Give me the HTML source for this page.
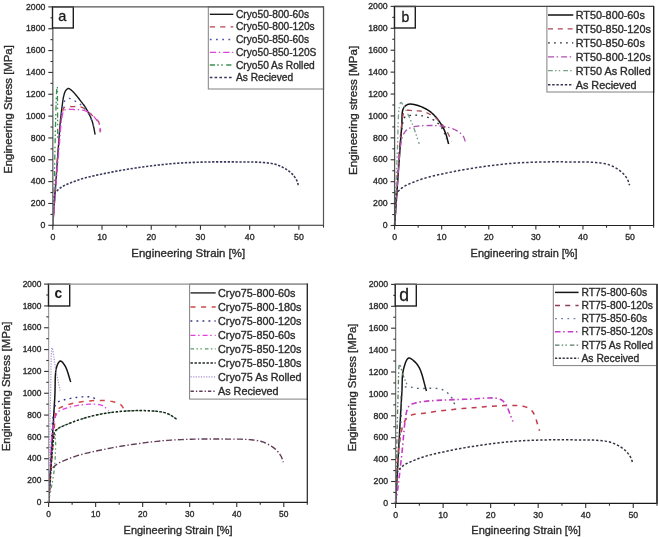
<!DOCTYPE html>
<html><head><meta charset="utf-8"><style>
html,body{margin:0;padding:0;background:#fff;width:658px;height:538px;overflow:hidden}
svg{display:block;font-family:"Liberation Sans",sans-serif;filter:blur(0.6px)}
</style></head><body>
<svg width="658" height="538" viewBox="0 0 658 538">
<rect width="658" height="538" fill="#fff"/>
<path d="M52.80,225.30 L53.43,216.50 L54.08,207.28 L54.76,197.82 L55.43,188.30 L56.10,178.90 L56.75,169.80 L57.36,161.18 L57.93,153.22 L58.45,146.11 L58.90,140.01 L59.09,137.49 L59.26,135.18 L59.41,133.05 L59.55,131.07 L59.69,129.21 L59.82,127.43 L59.96,125.70 L60.10,123.98 L60.26,122.25 L60.43,120.47 L60.59,118.88 L60.76,117.31 L60.93,115.75 L61.11,114.21 L61.29,112.69 L61.47,111.20 L61.65,109.74 L61.84,108.32 L62.02,106.95 L62.20,105.62 L62.34,104.60 L62.47,103.60 L62.59,102.63 L62.72,101.67 L62.84,100.74 L62.97,99.84 L63.12,98.95 L63.27,98.09 L63.44,97.26 L63.63,96.44 L63.79,95.80 L63.95,95.16 L64.11,94.53 L64.27,93.92 L64.45,93.32 L64.64,92.74 L64.85,92.20 L65.07,91.68 L65.32,91.20 L65.60,90.77 L65.83,90.44 L66.08,90.12 L66.34,89.81 L66.62,89.51 L66.90,89.24 L67.19,89.00 L67.49,88.79 L67.79,88.63 L68.10,88.52 L68.40,88.47 L68.74,88.49 L69.08,88.59 L69.43,88.74 L69.79,88.95 L70.15,89.20 L70.51,89.49 L70.88,89.79 L71.25,90.12 L71.62,90.44 L72.00,90.77 L72.51,91.23 L73.04,91.74 L73.58,92.30 L74.13,92.90 L74.68,93.52 L75.23,94.16 L75.77,94.80 L76.30,95.44 L76.81,96.06 L77.31,96.66 L77.75,97.19 L78.17,97.72 L78.58,98.25 L78.99,98.78 L79.39,99.30 L79.78,99.83 L80.17,100.35 L80.56,100.87 L80.95,101.39 L81.35,101.90 L81.73,102.40 L82.11,102.88 L82.49,103.36 L82.87,103.83 L83.25,104.31 L83.63,104.79 L84.00,105.28 L84.37,105.77 L84.73,106.29 L85.09,106.82 L85.47,107.42 L85.86,108.05 L86.23,108.69 L86.61,109.34 L86.98,110.00 L87.34,110.67 L87.69,111.35 L88.05,112.02 L88.39,112.70 L88.73,113.37 L89.06,114.04 L89.39,114.70 L89.72,115.37 L90.05,116.05 L90.36,116.72 L90.67,117.40 L90.97,118.08 L91.25,118.77 L91.52,119.45 L91.78,120.14 L92.01,120.82 L92.23,121.49 L92.44,122.17 L92.63,122.86 L92.81,123.54 L92.99,124.23 L93.16,124.92 L93.32,125.62 L93.49,126.32 L93.65,127.02 L93.82,127.76 L93.98,128.50 L94.13,129.25 L94.28,130.00 L94.42,130.76 L94.56,131.52 L94.70,132.28 L94.84,133.04 L94.98,133.80 L95.13,134.55" fill="none" stroke="#1a1a1a" stroke-width="1.4" stroke-linejoin="round"/>
<path d="M52.80,225.30 L53.44,216.32 L54.10,206.95 L54.75,197.37 L55.41,187.73 L56.06,178.21 L56.71,168.95 L57.35,160.13 L57.98,151.92 L58.60,144.46 L59.20,137.94 L59.50,134.86 L59.78,131.93 L60.05,129.15 L60.31,126.51 L60.58,124.04 L60.85,121.71 L61.14,119.53 L61.45,117.51 L61.78,115.64 L62.15,113.92 L62.34,113.04 L62.51,112.21 L62.66,111.41 L62.81,110.65 L62.98,109.94 L63.18,109.29 L63.42,108.69 L63.71,108.14 L64.07,107.67 L64.51,107.25 L65.10,106.91 L65.79,106.67 L66.56,106.53 L67.40,106.46 L68.29,106.44 L69.21,106.47 L70.13,106.52 L71.05,106.56 L71.94,106.60 L72.78,106.60 L73.58,106.57 L74.38,106.53 L75.18,106.48 L75.98,106.45 L76.78,106.42 L77.57,106.42 L78.35,106.45 L79.12,106.52 L79.87,106.64 L80.61,106.82 L81.32,107.05 L82.02,107.34 L82.71,107.67 L83.38,108.04 L84.05,108.45 L84.70,108.88 L85.35,109.33 L85.99,109.80 L86.62,110.27 L87.25,110.75 L87.92,111.28 L88.58,111.86 L89.24,112.47 L89.89,113.11 L90.53,113.76 L91.16,114.41 L91.77,115.04 L92.37,115.65 L92.95,116.23 L93.50,116.76 L93.91,117.12 L94.30,117.46 L94.69,117.78 L95.07,118.10 L95.44,118.40 L95.80,118.70 L96.15,119.00 L96.48,119.30 L96.80,119.61 L97.10,119.92 L97.33,120.18 L97.56,120.43 L97.77,120.67 L97.98,120.90 L98.17,121.15 L98.36,121.40 L98.54,121.67 L98.71,121.97 L98.87,122.29 L99.02,122.65 L99.24,123.37 L99.42,124.19 L99.57,125.10 L99.68,126.08 L99.77,127.11 L99.85,128.18 L99.93,129.25 L100.00,130.33 L100.09,131.37 L100.20,132.37" fill="none" stroke="#b8404e" stroke-width="1.3" stroke-dasharray="5.2,5.2" stroke-linejoin="round"/>
<path d="M52.80,225.30 L53.45,216.34 L54.10,207.04 L54.76,197.53 L55.43,187.98 L56.09,178.53 L56.74,169.32 L57.38,160.51 L58.01,152.24 L58.62,144.67 L59.20,137.94 L59.51,134.52 L59.80,131.26 L60.08,128.16 L60.35,125.21 L60.62,122.42 L60.90,119.78 L61.19,117.28 L61.49,114.93 L61.81,112.72 L62.15,110.64 L62.35,109.47 L62.54,108.34 L62.71,107.25 L62.89,106.22 L63.07,105.23 L63.28,104.31 L63.52,103.44 L63.80,102.64 L64.13,101.91 L64.51,101.25 L64.82,100.82 L65.16,100.41 L65.52,100.03 L65.89,99.67 L66.29,99.35 L66.70,99.07 L67.11,98.83 L67.54,98.64 L67.97,98.50 L68.40,98.41 L68.87,98.39 L69.35,98.44 L69.85,98.57 L70.36,98.74 L70.88,98.96 L71.40,99.21 L71.92,99.48 L72.44,99.75 L72.96,100.02 L73.47,100.27 L74.02,100.53 L74.58,100.81 L75.13,101.10 L75.69,101.40 L76.25,101.71 L76.80,102.03 L77.35,102.37 L77.90,102.71 L78.44,103.07 L78.98,103.43 L79.56,103.83 L80.13,104.24 L80.71,104.65 L81.29,105.08 L81.86,105.53 L82.42,105.98 L82.97,106.45 L83.50,106.92 L84.01,107.41 L84.50,107.91 L84.95,108.40 L85.37,108.90 L85.78,109.40 L86.17,109.91 L86.55,110.44 L86.92,110.98 L87.29,111.54 L87.65,112.12 L88.02,112.73 L88.38,113.37 L88.87,114.26 L89.37,115.22 L89.86,116.24 L90.36,117.31 L90.84,118.40 L91.31,119.49 L91.76,120.57 L92.18,121.61 L92.56,122.61 L92.91,123.53 L93.14,124.15 L93.34,124.76 L93.53,125.34 L93.70,125.90 L93.86,126.46 L94.01,127.00 L94.16,127.55 L94.31,128.09 L94.47,128.64 L94.64,129.20" fill="none" stroke="#5058a8" stroke-width="1.3" stroke-dasharray="1.8,4.4" stroke-linejoin="round"/>
<path d="M52.80,225.30 L53.43,217.52 L54.06,209.52 L54.70,201.40 L55.34,193.25 L55.98,185.16 L56.62,177.22 L57.24,169.53 L57.85,162.18 L58.43,155.26 L59.00,148.86 L59.35,144.78 L59.67,140.72 L59.98,136.73 L60.27,132.86 L60.56,129.16 L60.87,125.68 L61.19,122.48 L61.55,119.59 L61.95,117.09 L62.40,115.01 L62.57,114.30 L62.72,113.66 L62.86,113.06 L63.00,112.51 L63.15,112.01 L63.32,111.56 L63.54,111.14 L63.80,110.76 L64.12,110.41 L64.51,110.09 L65.21,109.73 L66.07,109.48 L67.05,109.33 L68.12,109.25 L69.27,109.24 L70.46,109.28 L71.67,109.34 L72.86,109.42 L74.01,109.50 L75.10,109.55 L76.12,109.58 L77.15,109.62 L78.20,109.68 L79.24,109.74 L80.27,109.83 L81.29,109.94 L82.28,110.09 L83.25,110.27 L84.19,110.48 L85.09,110.75 L85.84,111.02 L86.58,111.32 L87.30,111.66 L88.00,112.02 L88.68,112.41 L89.34,112.81 L89.98,113.23 L90.60,113.67 L91.20,114.12 L91.78,114.57 L92.29,115.00 L92.78,115.45 L93.24,115.92 L93.69,116.41 L94.12,116.90 L94.54,117.40 L94.95,117.90 L95.34,118.40 L95.73,118.89 L96.11,119.38 L96.44,119.79 L96.77,120.18 L97.09,120.57 L97.40,120.96 L97.71,121.34 L98.00,121.74 L98.27,122.15 L98.54,122.58 L98.79,123.04 L99.02,123.53 L99.27,124.19 L99.49,124.89 L99.68,125.64 L99.84,126.42 L99.99,127.22 L100.12,128.04 L100.26,128.86 L100.39,129.68 L100.53,130.49 L100.69,131.28" fill="none" stroke="#d848d8" stroke-width="1.3" stroke-dasharray="6.3,2.6,1.5,3" stroke-linejoin="round"/>
<path d="M52.80,225.30 L52.95,220.75 L53.10,216.25 L53.25,211.77 L53.40,207.31 L53.55,202.83 L53.70,198.31 L53.85,193.74 L53.99,189.08 L54.14,184.32 L54.28,179.44 L54.44,173.39 L54.59,166.98 L54.74,160.32 L54.88,153.52 L55.03,146.69 L55.17,139.94 L55.31,133.40 L55.46,127.17 L55.60,121.37 L55.75,116.10 L55.85,112.90 L55.94,109.71 L56.02,106.58 L56.11,103.54 L56.20,100.65 L56.29,97.95 L56.39,95.48 L56.49,93.28 L56.61,91.40 L56.74,89.89 L56.78,89.45 L56.83,89.02 L56.89,88.60 L56.94,88.21 L56.99,87.86 L57.05,87.55 L57.10,87.30 L57.15,87.10 L57.19,86.98 L57.23,86.94 L57.30,87.16 L57.35,87.76 L57.38,88.69 L57.41,89.89 L57.42,91.31 L57.43,92.90 L57.44,94.58 L57.45,96.32 L57.46,98.05 L57.48,99.72 L57.51,102.71 L57.54,106.06 L57.57,109.68 L57.59,113.54 L57.61,117.55 L57.63,121.67 L57.66,125.83 L57.68,129.97 L57.70,134.03 L57.72,137.94" fill="none" stroke="#3a9050" stroke-width="1.3" stroke-dasharray="5.2,2.2,1.5,2.5,1.5,3.5" stroke-linejoin="round"/>
<path d="M52.80,225.30 L52.96,221.99 L53.06,218.45 L53.13,214.77 L53.18,211.07 L53.26,207.43 L53.38,203.95 L53.56,200.74 L53.84,197.88 L54.23,195.48 L54.77,193.63 L55.01,193.09 L55.26,192.63 L55.53,192.23 L55.81,191.88 L56.09,191.57 L56.40,191.29 L56.71,191.02 L57.04,190.74 L57.37,190.45 L57.72,190.14 L58.14,189.75 L58.57,189.36 L59.02,188.98 L59.49,188.60 L59.97,188.22 L60.46,187.85 L60.98,187.49 L61.52,187.13 L62.07,186.77 L62.64,186.42 L63.39,186.01 L64.16,185.60 L64.97,185.21 L65.81,184.83 L66.68,184.45 L67.57,184.08 L68.48,183.72 L69.40,183.35 L70.35,182.98 L71.31,182.60 L72.47,182.15 L73.65,181.69 L74.85,181.24 L76.07,180.79 L77.33,180.34 L78.62,179.89 L79.96,179.44 L81.35,179.00 L82.79,178.56 L84.30,178.13 L86.53,177.52 L88.93,176.91 L91.46,176.31 L94.09,175.70 L96.79,175.11 L99.54,174.53 L102.30,173.95 L105.05,173.40 L107.76,172.86 L110.39,172.34 L112.87,171.86 L115.30,171.39 L117.70,170.95 L120.09,170.51 L122.49,170.09 L124.92,169.68 L127.39,169.28 L129.92,168.88 L132.53,168.48 L135.24,168.08 L138.76,167.58 L142.45,167.06 L146.26,166.55 L150.16,166.04 L154.14,165.55 L158.14,165.07 L162.15,164.62 L166.13,164.20 L170.05,163.82 L173.88,163.49 L177.45,163.22 L181.00,162.99 L184.55,162.78 L188.07,162.61 L191.58,162.46 L195.07,162.33 L198.54,162.22 L201.99,162.13 L205.42,162.04 L208.82,161.96 L212.03,161.91 L215.25,161.87 L218.48,161.85 L221.69,161.84 L224.88,161.85 L228.02,161.86 L231.10,161.89 L234.11,161.91 L237.02,161.94 L239.83,161.96 L241.99,161.97 L244.08,161.98 L246.12,161.97 L248.11,161.97 L250.06,161.97 L251.98,161.99 L253.87,162.02 L255.76,162.08 L257.64,162.17 L259.52,162.29 L261.26,162.42 L263.00,162.54 L264.73,162.67 L266.44,162.82 L268.14,162.99 L269.82,163.20 L271.48,163.45 L273.10,163.76 L274.69,164.13 L276.25,164.58 L277.70,165.08 L279.16,165.65 L280.60,166.26 L282.02,166.93 L283.42,167.64 L284.77,168.39 L286.06,169.16 L287.30,169.95 L288.46,170.76 L289.54,171.57 L290.35,172.24 L291.12,172.94 L291.86,173.65 L292.55,174.38 L293.21,175.12 L293.83,175.88 L294.41,176.63 L294.96,177.39 L295.47,178.14 L295.94,178.89 L296.29,179.51 L296.60,180.13 L296.87,180.75 L297.11,181.37 L297.33,181.99 L297.54,182.62 L297.74,183.24 L297.95,183.87 L298.16,184.49 L298.40,185.11" fill="none" stroke="#38385a" stroke-width="1.6" stroke-dasharray="2.3,1.6" stroke-linejoin="round"/>
<line x1="52.80" y1="6.90" x2="52.80" y2="225.30" stroke="#808080" stroke-width="1.6"/>
<line x1="52.80" y1="225.30" x2="324.00" y2="225.30" stroke="#2a2a2a" stroke-width="1.1"/>
<line x1="323.50" y1="6.90" x2="323.50" y2="225.30" stroke="#555" stroke-width="1.2"/>
<line x1="48.30" y1="225.30" x2="52.80" y2="225.30" stroke="#303030" stroke-width="1.1"/>
<line x1="50.50" y1="214.38" x2="52.80" y2="214.38" stroke="#303030" stroke-width="1.1"/>
<line x1="48.30" y1="203.46" x2="52.80" y2="203.46" stroke="#303030" stroke-width="1.1"/>
<line x1="50.50" y1="192.54" x2="52.80" y2="192.54" stroke="#303030" stroke-width="1.1"/>
<line x1="48.30" y1="181.62" x2="52.80" y2="181.62" stroke="#303030" stroke-width="1.1"/>
<line x1="50.50" y1="170.70" x2="52.80" y2="170.70" stroke="#303030" stroke-width="1.1"/>
<line x1="48.30" y1="159.78" x2="52.80" y2="159.78" stroke="#303030" stroke-width="1.1"/>
<line x1="50.50" y1="148.86" x2="52.80" y2="148.86" stroke="#303030" stroke-width="1.1"/>
<line x1="48.30" y1="137.94" x2="52.80" y2="137.94" stroke="#303030" stroke-width="1.1"/>
<line x1="50.50" y1="127.02" x2="52.80" y2="127.02" stroke="#303030" stroke-width="1.1"/>
<line x1="48.30" y1="116.10" x2="52.80" y2="116.10" stroke="#303030" stroke-width="1.1"/>
<line x1="50.50" y1="105.18" x2="52.80" y2="105.18" stroke="#303030" stroke-width="1.1"/>
<line x1="48.30" y1="94.26" x2="52.80" y2="94.26" stroke="#303030" stroke-width="1.1"/>
<line x1="50.50" y1="83.34" x2="52.80" y2="83.34" stroke="#303030" stroke-width="1.1"/>
<line x1="48.30" y1="72.42" x2="52.80" y2="72.42" stroke="#303030" stroke-width="1.1"/>
<line x1="50.50" y1="61.50" x2="52.80" y2="61.50" stroke="#303030" stroke-width="1.1"/>
<line x1="48.30" y1="50.58" x2="52.80" y2="50.58" stroke="#303030" stroke-width="1.1"/>
<line x1="50.50" y1="39.66" x2="52.80" y2="39.66" stroke="#303030" stroke-width="1.1"/>
<line x1="48.30" y1="28.74" x2="52.80" y2="28.74" stroke="#303030" stroke-width="1.1"/>
<line x1="50.50" y1="17.82" x2="52.80" y2="17.82" stroke="#303030" stroke-width="1.1"/>
<line x1="48.30" y1="6.90" x2="52.80" y2="6.90" stroke="#303030" stroke-width="1.1"/>
<line x1="52.80" y1="225.30" x2="52.80" y2="229.80" stroke="#303030" stroke-width="1.1"/>
<line x1="77.41" y1="225.30" x2="77.41" y2="227.60" stroke="#303030" stroke-width="1.1"/>
<line x1="102.02" y1="225.30" x2="102.02" y2="229.80" stroke="#303030" stroke-width="1.1"/>
<line x1="126.63" y1="225.30" x2="126.63" y2="227.60" stroke="#303030" stroke-width="1.1"/>
<line x1="151.24" y1="225.30" x2="151.24" y2="229.80" stroke="#303030" stroke-width="1.1"/>
<line x1="175.85" y1="225.30" x2="175.85" y2="227.60" stroke="#303030" stroke-width="1.1"/>
<line x1="200.45" y1="225.30" x2="200.45" y2="229.80" stroke="#303030" stroke-width="1.1"/>
<line x1="225.06" y1="225.30" x2="225.06" y2="227.60" stroke="#303030" stroke-width="1.1"/>
<line x1="249.67" y1="225.30" x2="249.67" y2="229.80" stroke="#303030" stroke-width="1.1"/>
<line x1="274.28" y1="225.30" x2="274.28" y2="227.60" stroke="#303030" stroke-width="1.1"/>
<line x1="298.89" y1="225.30" x2="298.89" y2="229.80" stroke="#303030" stroke-width="1.1"/>
<line x1="323.50" y1="225.30" x2="323.50" y2="227.60" stroke="#303030" stroke-width="1.1"/>
<text x="45.30" y="228.00" font-size="8.70" text-anchor="end" fill="#2c2c2c" stroke="#2c2c2c" stroke-width="0.35">0</text>
<text x="45.30" y="206.16" font-size="8.70" text-anchor="end" fill="#2c2c2c" stroke="#2c2c2c" stroke-width="0.35">200</text>
<text x="45.30" y="184.32" font-size="8.70" text-anchor="end" fill="#2c2c2c" stroke="#2c2c2c" stroke-width="0.35">400</text>
<text x="45.30" y="162.48" font-size="8.70" text-anchor="end" fill="#2c2c2c" stroke="#2c2c2c" stroke-width="0.35">600</text>
<text x="45.30" y="140.64" font-size="8.70" text-anchor="end" fill="#2c2c2c" stroke="#2c2c2c" stroke-width="0.35">800</text>
<text x="45.30" y="118.80" font-size="8.70" text-anchor="end" fill="#2c2c2c" stroke="#2c2c2c" stroke-width="0.35">1000</text>
<text x="45.30" y="96.96" font-size="8.70" text-anchor="end" fill="#2c2c2c" stroke="#2c2c2c" stroke-width="0.35">1200</text>
<text x="45.30" y="75.12" font-size="8.70" text-anchor="end" fill="#2c2c2c" stroke="#2c2c2c" stroke-width="0.35">1400</text>
<text x="45.30" y="53.28" font-size="8.70" text-anchor="end" fill="#2c2c2c" stroke="#2c2c2c" stroke-width="0.35">1600</text>
<text x="45.30" y="31.44" font-size="8.70" text-anchor="end" fill="#2c2c2c" stroke="#2c2c2c" stroke-width="0.35">1800</text>
<text x="45.30" y="9.60" font-size="8.70" text-anchor="end" fill="#2c2c2c" stroke="#2c2c2c" stroke-width="0.35">2000</text>
<text x="52.80" y="239.70" font-size="8.70" text-anchor="middle" fill="#2c2c2c" stroke="#2c2c2c" stroke-width="0.35">0</text>
<text x="102.02" y="239.70" font-size="8.70" text-anchor="middle" fill="#2c2c2c" stroke="#2c2c2c" stroke-width="0.35">10</text>
<text x="151.24" y="239.70" font-size="8.70" text-anchor="middle" fill="#2c2c2c" stroke="#2c2c2c" stroke-width="0.35">20</text>
<text x="200.45" y="239.70" font-size="8.70" text-anchor="middle" fill="#2c2c2c" stroke="#2c2c2c" stroke-width="0.35">30</text>
<text x="249.67" y="239.70" font-size="8.70" text-anchor="middle" fill="#2c2c2c" stroke="#2c2c2c" stroke-width="0.35">40</text>
<text x="298.89" y="239.70" font-size="8.70" text-anchor="middle" fill="#2c2c2c" stroke="#2c2c2c" stroke-width="0.35">50</text>
<text x="131.30" y="256.90" font-size="11.45" fill="#2c2c2c" stroke="#2c2c2c" stroke-width="0.35">Engineering Strain [%]</text>
<text transform="translate(12.30,173.80) rotate(-90)" font-size="11.35" fill="#2c2c2c" stroke="#2c2c2c" stroke-width="0.35">Engineering Stress [MPa]</text>
<rect x="52.50" y="6.90" width="20.80" height="21.10" fill="#fff" stroke="#1e1e1e" stroke-width="1.4"/>
<text x="62.40" y="20.60" font-size="14.50" text-anchor="middle" fill="#1a1a1a" stroke="#1a1a1a" stroke-width="0.3">a</text>
<rect x="208.30" y="6.90" width="115.20" height="82.10" fill="#fff" stroke="#808080" stroke-width="1"/>
<line x1="52.80" y1="6.90" x2="324.00" y2="6.90" stroke="#555" stroke-width="1.3"/>
<line x1="323.50" y1="6.40" x2="323.50" y2="90.00" stroke="#555" stroke-width="1.2"/>
<line x1="209.80" y1="14.30" x2="233.30" y2="14.30" stroke="#1a1a1a" stroke-width="1.4"/>
<text x="236.00" y="17.97" font-size="10.20" fill="#2c2c2c" stroke="#2c2c2c" stroke-width="0.35">Cryo50-800-60s</text>
<line x1="209.80" y1="26.80" x2="233.30" y2="26.80" stroke="#b8404e" stroke-width="1.3" stroke-dasharray="5.2,5.2"/>
<text x="236.00" y="30.47" font-size="10.20" fill="#2c2c2c" stroke="#2c2c2c" stroke-width="0.35">Cryo50-800-120s</text>
<line x1="209.80" y1="39.50" x2="233.30" y2="39.50" stroke="#5058a8" stroke-width="1.3" stroke-dasharray="1.8,4.4"/>
<text x="236.00" y="43.17" font-size="10.20" fill="#2c2c2c" stroke="#2c2c2c" stroke-width="0.35">Cryo50-850-60s</text>
<line x1="209.80" y1="52.40" x2="233.30" y2="52.40" stroke="#d848d8" stroke-width="1.3" stroke-dasharray="6.3,2.6,1.5,3"/>
<text x="236.00" y="56.07" font-size="10.20" fill="#2c2c2c" stroke="#2c2c2c" stroke-width="0.35">Cryo50-850-120S</text>
<line x1="209.80" y1="65.00" x2="233.30" y2="65.00" stroke="#3a9050" stroke-width="1.3" stroke-dasharray="5.2,2.2,1.5,2.5,1.5,3.5"/>
<text x="236.00" y="68.67" font-size="10.20" fill="#2c2c2c" stroke="#2c2c2c" stroke-width="0.35">Cryo50 As Rolled</text>
<line x1="209.80" y1="77.50" x2="233.30" y2="77.50" stroke="#38385a" stroke-width="1.6" stroke-dasharray="2.6,2.2"/>
<text x="236.00" y="81.17" font-size="10.20" fill="#2c2c2c" stroke="#2c2c2c" stroke-width="0.35">As Recieved</text>
<path d="M394.60,225.50 L395.33,215.29 L396.08,204.53 L396.86,193.46 L397.64,182.31 L398.41,171.31 L399.15,160.71 L399.87,150.73 L400.53,141.62 L401.14,133.60 L401.66,126.91 L401.83,124.41 L401.92,122.06 L401.97,119.86 L402.00,117.80 L402.04,115.90 L402.12,114.13 L402.27,112.51 L402.50,111.03 L402.86,109.70 L403.36,108.50 L403.72,107.86 L404.11,107.28 L404.53,106.74 L404.98,106.26 L405.46,105.82 L405.97,105.43 L406.50,105.09 L407.06,104.80 L407.64,104.55 L408.26,104.34 L409.07,104.16 L409.94,104.07 L410.88,104.07 L411.85,104.14 L412.86,104.27 L413.90,104.46 L414.95,104.69 L415.99,104.95 L417.03,105.24 L418.05,105.54 L419.25,105.93 L420.49,106.39 L421.75,106.90 L423.02,107.47 L424.29,108.08 L425.54,108.73 L426.77,109.42 L427.97,110.15 L429.12,110.90 L430.20,111.68 L431.19,112.45 L432.15,113.27 L433.07,114.12 L433.96,115.00 L434.82,115.91 L435.66,116.85 L436.47,117.81 L437.26,118.79 L438.02,119.77 L438.77,120.77 L439.50,121.79 L440.21,122.82 L440.89,123.88 L441.56,124.96 L442.19,126.06 L442.80,127.17 L443.39,128.29 L443.95,129.43 L444.48,130.57 L444.99,131.73 L445.46,132.90 L445.88,134.10 L446.27,135.32 L446.63,136.54 L446.97,137.78 L447.29,139.03 L447.61,140.28 L447.93,141.52 L448.26,142.76 L448.61,143.99" fill="none" stroke="#111111" stroke-width="1.5" stroke-linejoin="round"/>
<path d="M394.60,225.50 L395.34,214.60 L396.08,202.95 L396.80,190.86 L397.52,178.66 L398.25,166.68 L398.98,155.24 L399.73,144.67 L400.51,135.30 L401.30,127.44 L402.13,121.43 L402.38,119.88 L402.57,118.46 L402.74,117.15 L402.91,115.95 L403.09,114.86 L403.31,113.88 L403.58,113.01 L403.94,112.24 L404.39,111.58 L404.96,111.02 L405.58,110.64 L406.29,110.40 L407.08,110.27 L407.93,110.23 L408.82,110.26 L409.75,110.34 L410.69,110.44 L411.62,110.55 L412.55,110.64 L413.44,110.69 L414.36,110.71 L415.28,110.73 L416.21,110.75 L417.14,110.78 L418.08,110.83 L419.02,110.91 L419.97,111.01 L420.93,111.15 L421.89,111.33 L422.85,111.57 L424.01,111.90 L425.20,112.29 L426.41,112.73 L427.63,113.22 L428.85,113.75 L430.06,114.33 L431.26,114.95 L432.42,115.61 L433.55,116.31 L434.63,117.05 L435.69,117.85 L436.73,118.72 L437.75,119.64 L438.74,120.60 L439.70,121.61 L440.63,122.64 L441.53,123.69 L442.40,124.76 L443.24,125.84 L444.05,126.91 L444.79,127.97 L445.53,129.09 L446.24,130.26 L446.92,131.46 L447.57,132.65 L448.19,133.82 L448.76,134.95 L449.28,136.01 L449.75,136.99 L450.17,137.86 L450.37,138.29 L450.54,138.70 L450.70,139.07 L450.83,139.43 L450.96,139.78 L451.08,140.11 L451.20,140.45 L451.32,140.78 L451.45,141.12 L451.58,141.48" fill="none" stroke="#a84858" stroke-width="1.3" stroke-dasharray="5,4.8" stroke-linejoin="round"/>
<path d="M394.60,225.50 L395.35,215.18 L396.08,204.14 L396.80,192.68 L397.52,181.13 L398.25,169.77 L398.99,158.94 L399.74,148.92 L400.51,140.04 L401.31,132.60 L402.13,126.91 L402.38,125.45 L402.58,124.12 L402.76,122.90 L402.93,121.80 L403.12,120.79 L403.34,119.88 L403.62,119.06 L403.96,118.32 L404.41,117.65 L404.96,117.05 L405.58,116.58 L406.29,116.21 L407.07,115.93 L407.92,115.73 L408.81,115.59 L409.74,115.49 L410.68,115.43 L411.62,115.38 L412.54,115.34 L413.44,115.29 L414.36,115.24 L415.29,115.22 L416.23,115.22 L417.17,115.25 L418.13,115.31 L419.08,115.38 L420.03,115.49 L420.98,115.62 L421.92,115.77 L422.85,115.95 L423.82,116.16 L424.79,116.40 L425.76,116.66 L426.74,116.95 L427.71,117.27 L428.66,117.61 L429.60,117.98 L430.52,118.37 L431.41,118.79 L432.27,119.24 L433.06,119.68 L433.84,120.15 L434.60,120.64 L435.34,121.16 L436.07,121.70 L436.77,122.26 L437.45,122.84 L438.10,123.44 L438.73,124.07 L439.34,124.71 L439.91,125.39 L440.47,126.11 L440.99,126.86 L441.50,127.64 L441.98,128.43 L442.43,129.23 L442.87,130.03 L443.28,130.83 L443.67,131.61 L444.05,132.38 L444.35,133.05 L444.62,133.71 L444.88,134.37 L445.11,135.02 L445.33,135.68 L445.54,136.33 L445.75,136.99 L445.96,137.64 L446.17,138.30 L446.40,138.96" fill="none" stroke="#303040" stroke-width="1.3" stroke-dasharray="1.8,4.2" stroke-linejoin="round"/>
<path d="M394.60,225.50 L395.17,217.52 L395.75,209.05 L396.33,200.31 L396.91,191.50 L397.49,182.82 L398.06,174.49 L398.63,166.72 L399.19,159.71 L399.73,153.67 L400.25,148.81 L400.43,147.30 L400.59,145.94 L400.73,144.71 L400.87,143.59 L401.01,142.56 L401.17,141.58 L401.35,140.65 L401.56,139.73 L401.82,138.81 L402.13,137.86 L402.45,137.00 L402.77,136.13 L403.12,135.28 L403.50,134.45 L403.89,133.64 L404.32,132.86 L404.78,132.11 L405.27,131.42 L405.80,130.78 L406.37,130.19 L406.95,129.70 L407.57,129.26 L408.23,128.86 L408.92,128.50 L409.63,128.18 L410.37,127.89 L411.12,127.62 L411.89,127.37 L412.66,127.13 L413.44,126.91 L414.30,126.68 L415.18,126.48 L416.08,126.32 L416.99,126.19 L417.92,126.08 L418.87,125.98 L419.83,125.90 L420.82,125.83 L421.83,125.77 L422.85,125.70 L424.16,125.63 L425.54,125.57 L426.97,125.53 L428.44,125.51 L429.92,125.50 L431.40,125.51 L432.87,125.53 L434.30,125.57 L435.67,125.63 L436.98,125.70 L438.00,125.77 L438.99,125.84 L439.96,125.92 L440.90,126.01 L441.83,126.11 L442.74,126.23 L443.65,126.36 L444.56,126.52 L445.48,126.70 L446.40,126.90 L447.36,127.14 L448.33,127.39 L449.31,127.66 L450.28,127.95 L451.25,128.26 L452.21,128.59 L453.15,128.95 L454.07,129.34 L454.96,129.75 L455.82,130.19 L456.62,130.64 L457.41,131.10 L458.20,131.59 L458.97,132.11 L459.72,132.64 L460.44,133.20 L461.13,133.78 L461.76,134.39 L462.35,135.02 L462.88,135.67 L463.31,136.30 L463.68,136.97 L463.99,137.66 L464.27,138.38 L464.52,139.11 L464.75,139.85 L464.97,140.59 L465.20,141.33 L465.44,142.07 L465.71,142.79" fill="none" stroke="#b050b0" stroke-width="1.3" stroke-dasharray="6,2.6,1.5,3" stroke-linejoin="round"/>
<path d="M394.60,225.50 L394.88,217.73 L395.17,209.79 L395.46,201.76 L395.75,193.71 L396.03,185.70 L396.32,177.81 L396.60,170.11 L396.88,162.66 L397.16,155.54 L397.43,148.81 L397.60,143.95 L397.74,139.02 L397.87,134.09 L397.99,129.26 L398.11,124.61 L398.26,120.23 L398.43,116.22 L398.66,112.65 L398.95,109.61 L399.31,107.19 L399.45,106.47 L399.58,105.79 L399.72,105.13 L399.87,104.52 L400.02,103.97 L400.18,103.49 L400.35,103.09 L400.53,102.78 L400.74,102.57 L400.96,102.48 L401.21,102.52 L401.48,102.70 L401.77,103.00 L402.07,103.40 L402.39,103.87 L402.71,104.40 L403.04,104.96 L403.37,105.53 L403.70,106.10 L404.02,106.64 L404.47,107.40 L404.94,108.23 L405.41,109.11 L405.89,110.03 L406.36,110.99 L406.84,111.97 L407.32,112.96 L407.80,113.97 L408.27,114.96 L408.73,115.95 L409.21,116.99 L409.69,118.03 L410.16,119.08 L410.64,120.13 L411.10,121.20 L411.57,122.28 L412.03,123.39 L412.50,124.53 L412.97,125.70 L413.44,126.90 L414.02,128.45 L414.59,130.07 L415.17,131.74 L415.75,133.45 L416.33,135.20 L416.91,136.97 L417.49,138.74 L418.07,140.51 L418.65,142.27 L419.23,143.99" fill="none" stroke="#7aa088" stroke-width="1.3" stroke-dasharray="4.8,2.2,1.5,2.2,1.5,3" stroke-linejoin="round"/>
<path d="M394.60,225.50 L394.75,222.18 L394.85,218.62 L394.91,214.94 L394.96,211.23 L395.03,207.58 L395.14,204.09 L395.32,200.86 L395.58,198.00 L395.96,195.59 L396.48,193.73 L396.71,193.19 L396.96,192.73 L397.21,192.33 L397.47,191.98 L397.75,191.67 L398.04,191.39 L398.34,191.11 L398.65,190.84 L398.97,190.54 L399.31,190.22 L399.71,189.84 L400.12,189.45 L400.55,189.06 L400.99,188.68 L401.45,188.31 L401.93,187.93 L402.42,187.57 L402.94,187.20 L403.47,186.85 L404.02,186.50 L404.73,186.08 L405.47,185.68 L406.24,185.29 L407.05,184.90 L407.87,184.52 L408.73,184.15 L409.60,183.78 L410.49,183.41 L411.39,183.04 L412.31,182.67 L413.42,182.21 L414.55,181.75 L415.69,181.30 L416.87,180.85 L418.07,180.40 L419.31,179.95 L420.59,179.50 L421.91,179.05 L423.30,178.61 L424.74,178.17 L426.88,177.57 L429.17,176.96 L431.59,176.35 L434.10,175.75 L436.69,175.15 L439.32,174.56 L441.96,173.99 L444.59,173.43 L447.18,172.89 L449.70,172.37 L452.07,171.88 L454.40,171.42 L456.70,170.97 L458.98,170.54 L461.28,170.12 L463.60,169.70 L465.96,169.30 L468.39,168.90 L470.88,168.50 L473.48,168.10 L476.85,167.59 L480.37,167.08 L484.02,166.56 L487.75,166.05 L491.55,165.56 L495.39,165.08 L499.22,164.63 L503.03,164.21 L506.78,163.83 L510.44,163.49 L513.86,163.22 L517.26,162.99 L520.65,162.78 L524.03,162.61 L527.38,162.46 L530.72,162.33 L534.04,162.22 L537.34,162.12 L540.62,162.04 L543.88,161.96 L546.95,161.90 L550.03,161.86 L553.12,161.84 L556.19,161.84 L559.24,161.84 L562.25,161.86 L565.19,161.88 L568.07,161.91 L570.86,161.94 L573.55,161.96 L575.61,161.97 L577.61,161.97 L579.56,161.97 L581.46,161.96 L583.33,161.97 L585.17,161.98 L586.98,162.02 L588.79,162.08 L590.58,162.16 L592.38,162.29 L594.05,162.42 L595.72,162.54 L597.37,162.67 L599.01,162.82 L600.64,162.99 L602.25,163.20 L603.83,163.45 L605.38,163.76 L606.91,164.14 L608.39,164.59 L609.79,165.09 L611.18,165.66 L612.56,166.28 L613.92,166.95 L615.26,167.66 L616.55,168.41 L617.79,169.18 L618.97,169.98 L620.08,170.79 L621.11,171.60 L621.89,172.27 L622.63,172.97 L623.33,173.69 L624.00,174.42 L624.63,175.17 L625.22,175.92 L625.78,176.68 L626.30,177.44 L626.78,178.19 L627.23,178.94 L627.57,179.56 L627.86,180.18 L628.12,180.81 L628.35,181.43 L628.56,182.06 L628.76,182.68 L628.96,183.31 L629.15,183.94 L629.36,184.56 L629.58,185.19" fill="none" stroke="#363652" stroke-width="1.5" stroke-dasharray="2.4,1.9" stroke-linejoin="round"/>
<line x1="394.60" y1="6.40" x2="394.60" y2="225.50" stroke="#555" stroke-width="1.3"/>
<line x1="394.60" y1="225.50" x2="654.10" y2="225.50" stroke="#222" stroke-width="1.1"/>
<line x1="653.60" y1="6.40" x2="653.60" y2="225.50" stroke="#222" stroke-width="1.2"/>
<line x1="390.60" y1="225.50" x2="394.60" y2="225.50" stroke="#303030" stroke-width="1.1"/>
<line x1="392.30" y1="214.54" x2="394.60" y2="214.54" stroke="#303030" stroke-width="1.1"/>
<line x1="390.60" y1="203.59" x2="394.60" y2="203.59" stroke="#303030" stroke-width="1.1"/>
<line x1="392.30" y1="192.63" x2="394.60" y2="192.63" stroke="#303030" stroke-width="1.1"/>
<line x1="390.60" y1="181.68" x2="394.60" y2="181.68" stroke="#303030" stroke-width="1.1"/>
<line x1="392.30" y1="170.72" x2="394.60" y2="170.72" stroke="#303030" stroke-width="1.1"/>
<line x1="390.60" y1="159.77" x2="394.60" y2="159.77" stroke="#303030" stroke-width="1.1"/>
<line x1="392.30" y1="148.81" x2="394.60" y2="148.81" stroke="#303030" stroke-width="1.1"/>
<line x1="390.60" y1="137.86" x2="394.60" y2="137.86" stroke="#303030" stroke-width="1.1"/>
<line x1="392.30" y1="126.91" x2="394.60" y2="126.91" stroke="#303030" stroke-width="1.1"/>
<line x1="390.60" y1="115.95" x2="394.60" y2="115.95" stroke="#303030" stroke-width="1.1"/>
<line x1="392.30" y1="105.00" x2="394.60" y2="105.00" stroke="#303030" stroke-width="1.1"/>
<line x1="390.60" y1="94.04" x2="394.60" y2="94.04" stroke="#303030" stroke-width="1.1"/>
<line x1="392.30" y1="83.09" x2="394.60" y2="83.09" stroke="#303030" stroke-width="1.1"/>
<line x1="390.60" y1="72.13" x2="394.60" y2="72.13" stroke="#303030" stroke-width="1.1"/>
<line x1="392.30" y1="61.18" x2="394.60" y2="61.18" stroke="#303030" stroke-width="1.1"/>
<line x1="390.60" y1="50.22" x2="394.60" y2="50.22" stroke="#303030" stroke-width="1.1"/>
<line x1="392.30" y1="39.27" x2="394.60" y2="39.27" stroke="#303030" stroke-width="1.1"/>
<line x1="390.60" y1="28.31" x2="394.60" y2="28.31" stroke="#303030" stroke-width="1.1"/>
<line x1="392.30" y1="17.36" x2="394.60" y2="17.36" stroke="#303030" stroke-width="1.1"/>
<line x1="390.60" y1="6.40" x2="394.60" y2="6.40" stroke="#303030" stroke-width="1.1"/>
<line x1="394.60" y1="225.50" x2="394.60" y2="229.50" stroke="#303030" stroke-width="1.1"/>
<line x1="418.15" y1="225.50" x2="418.15" y2="227.80" stroke="#303030" stroke-width="1.1"/>
<line x1="441.69" y1="225.50" x2="441.69" y2="229.50" stroke="#303030" stroke-width="1.1"/>
<line x1="465.24" y1="225.50" x2="465.24" y2="227.80" stroke="#303030" stroke-width="1.1"/>
<line x1="488.78" y1="225.50" x2="488.78" y2="229.50" stroke="#303030" stroke-width="1.1"/>
<line x1="512.33" y1="225.50" x2="512.33" y2="227.80" stroke="#303030" stroke-width="1.1"/>
<line x1="535.87" y1="225.50" x2="535.87" y2="229.50" stroke="#303030" stroke-width="1.1"/>
<line x1="559.42" y1="225.50" x2="559.42" y2="227.80" stroke="#303030" stroke-width="1.1"/>
<line x1="582.96" y1="225.50" x2="582.96" y2="229.50" stroke="#303030" stroke-width="1.1"/>
<line x1="606.51" y1="225.50" x2="606.51" y2="227.80" stroke="#303030" stroke-width="1.1"/>
<line x1="630.05" y1="225.50" x2="630.05" y2="229.50" stroke="#303030" stroke-width="1.1"/>
<line x1="653.60" y1="225.50" x2="653.60" y2="227.80" stroke="#303030" stroke-width="1.1"/>
<text x="387.60" y="228.20" font-size="8.70" text-anchor="end" fill="#2c2c2c" stroke="#2c2c2c" stroke-width="0.35">0</text>
<text x="387.60" y="206.29" font-size="8.70" text-anchor="end" fill="#2c2c2c" stroke="#2c2c2c" stroke-width="0.35">200</text>
<text x="387.60" y="184.38" font-size="8.70" text-anchor="end" fill="#2c2c2c" stroke="#2c2c2c" stroke-width="0.35">400</text>
<text x="387.60" y="162.47" font-size="8.70" text-anchor="end" fill="#2c2c2c" stroke="#2c2c2c" stroke-width="0.35">600</text>
<text x="387.60" y="140.56" font-size="8.70" text-anchor="end" fill="#2c2c2c" stroke="#2c2c2c" stroke-width="0.35">800</text>
<text x="387.60" y="118.65" font-size="8.70" text-anchor="end" fill="#2c2c2c" stroke="#2c2c2c" stroke-width="0.35">1000</text>
<text x="387.60" y="96.74" font-size="8.70" text-anchor="end" fill="#2c2c2c" stroke="#2c2c2c" stroke-width="0.35">1200</text>
<text x="387.60" y="74.83" font-size="8.70" text-anchor="end" fill="#2c2c2c" stroke="#2c2c2c" stroke-width="0.35">1400</text>
<text x="387.60" y="52.92" font-size="8.70" text-anchor="end" fill="#2c2c2c" stroke="#2c2c2c" stroke-width="0.35">1600</text>
<text x="387.60" y="31.01" font-size="8.70" text-anchor="end" fill="#2c2c2c" stroke="#2c2c2c" stroke-width="0.35">1800</text>
<text x="387.60" y="9.10" font-size="8.70" text-anchor="end" fill="#2c2c2c" stroke="#2c2c2c" stroke-width="0.35">2000</text>
<text x="394.60" y="239.90" font-size="8.70" text-anchor="middle" fill="#2c2c2c" stroke="#2c2c2c" stroke-width="0.35">0</text>
<text x="441.69" y="239.90" font-size="8.70" text-anchor="middle" fill="#2c2c2c" stroke="#2c2c2c" stroke-width="0.35">10</text>
<text x="488.78" y="239.90" font-size="8.70" text-anchor="middle" fill="#2c2c2c" stroke="#2c2c2c" stroke-width="0.35">20</text>
<text x="535.87" y="239.90" font-size="8.70" text-anchor="middle" fill="#2c2c2c" stroke="#2c2c2c" stroke-width="0.35">30</text>
<text x="582.96" y="239.90" font-size="8.70" text-anchor="middle" fill="#2c2c2c" stroke="#2c2c2c" stroke-width="0.35">40</text>
<text x="630.05" y="239.90" font-size="8.70" text-anchor="middle" fill="#2c2c2c" stroke="#2c2c2c" stroke-width="0.35">50</text>
<text x="470.60" y="257.00" font-size="10.95" fill="#2c2c2c" stroke="#2c2c2c" stroke-width="0.35">Engineering strain [%]</text>
<text transform="translate(357.30,174.90) rotate(-90)" font-size="11.55" fill="#2c2c2c" stroke="#2c2c2c" stroke-width="0.35">Engineering stress [MPa]</text>
<rect x="394.50" y="6.50" width="20.80" height="21.50" fill="#fff" stroke="#1e1e1e" stroke-width="1.4"/>
<text x="405.50" y="21.70" font-size="14.00" text-anchor="middle" fill="#1a1a1a" stroke="#1a1a1a" stroke-width="0.3">b</text>
<rect x="546.90" y="6.40" width="106.70" height="85.60" fill="#fff" stroke="#808080" stroke-width="1"/>
<line x1="394.60" y1="6.40" x2="654.10" y2="6.40" stroke="#444" stroke-width="1.3"/>
<line x1="653.60" y1="5.90" x2="653.60" y2="93.00" stroke="#222" stroke-width="1.2"/>
<line x1="548.00" y1="15.00" x2="573.30" y2="15.00" stroke="#111111" stroke-width="1.5"/>
<text x="575.70" y="18.91" font-size="10.85" fill="#2c2c2c" stroke="#2c2c2c" stroke-width="0.35">RT50-800-60s</text>
<line x1="548.00" y1="28.80" x2="573.30" y2="28.80" stroke="#a84858" stroke-width="1.3" stroke-dasharray="5,4.8"/>
<text x="575.70" y="32.71" font-size="10.85" fill="#2c2c2c" stroke="#2c2c2c" stroke-width="0.35">RT50-850-120s</text>
<line x1="548.00" y1="42.80" x2="573.30" y2="42.80" stroke="#303040" stroke-width="1.3" stroke-dasharray="1.8,4.2"/>
<text x="575.70" y="46.71" font-size="10.85" fill="#2c2c2c" stroke="#2c2c2c" stroke-width="0.35">RT50-850-60s</text>
<line x1="548.00" y1="56.80" x2="573.30" y2="56.80" stroke="#b050b0" stroke-width="1.3" stroke-dasharray="6,2.6,1.5,3"/>
<text x="575.70" y="60.71" font-size="10.85" fill="#2c2c2c" stroke="#2c2c2c" stroke-width="0.35">RT50-800-120s</text>
<line x1="548.00" y1="70.60" x2="573.30" y2="70.60" stroke="#7aa088" stroke-width="1.3" stroke-dasharray="4.8,2.2,1.5,2.2,1.5,3"/>
<text x="575.70" y="74.51" font-size="10.85" fill="#2c2c2c" stroke="#2c2c2c" stroke-width="0.35">RT50 As Rolled</text>
<line x1="548.00" y1="84.70" x2="573.30" y2="84.70" stroke="#363652" stroke-width="1.5" stroke-dasharray="2.4,1.8"/>
<text x="575.70" y="88.61" font-size="10.85" fill="#2c2c2c" stroke="#2c2c2c" stroke-width="0.35">As Recieved</text>
<path d="M48.60,502.40 L49.23,491.76 L49.88,480.71 L50.54,469.41 L51.21,458.05 L51.88,446.82 L52.52,435.88 L53.14,425.42 L53.72,415.62 L54.24,406.66 L54.71,398.71 L54.91,394.69 L55.03,390.80 L55.10,387.06 L55.15,383.50 L55.21,380.13 L55.30,376.99 L55.46,374.08 L55.71,371.45 L56.08,369.09 L56.60,367.05 L56.89,366.17 L57.21,365.31 L57.56,364.48 L57.92,363.70 L58.30,363.00 L58.69,362.37 L59.10,361.85 L59.51,361.45 L59.93,361.17 L60.36,361.05 L60.79,361.09 L61.25,361.28 L61.72,361.61 L62.21,362.05 L62.70,362.59 L63.20,363.19 L63.68,363.86 L64.16,364.55 L64.62,365.26 L65.06,365.96 L65.71,367.15 L66.33,368.51 L66.92,370.01 L67.48,371.62 L68.02,373.30 L68.55,375.04 L69.08,376.80 L69.61,378.55 L70.15,380.26 L70.71,381.90" fill="none" stroke="#151515" stroke-width="1.5" stroke-linejoin="round"/>
<path d="M48.60,502.40 L49.28,493.45 L50.00,483.83 L50.73,473.82 L51.47,463.72 L52.21,453.81 L52.91,444.38 L53.58,435.72 L54.19,428.12 L54.73,421.87 L55.19,417.26 L55.27,416.30 L55.30,415.45 L55.29,414.69 L55.28,414.02 L55.28,413.41 L55.31,412.85 L55.38,412.31 L55.53,411.79 L55.77,411.26 L56.13,410.71 L56.87,409.88 L57.82,409.09 L58.96,408.35 L60.26,407.65 L61.68,406.99 L63.21,406.36 L64.81,405.77 L66.45,405.20 L68.11,404.67 L69.77,404.16 L72.09,403.53 L74.64,402.96 L77.37,402.45 L80.21,402.00 L83.12,401.60 L86.02,401.26 L88.88,400.97 L91.63,400.75 L94.21,400.57 L96.58,400.45 L98.14,400.41 L99.64,400.39 L101.10,400.40 L102.50,400.44 L103.87,400.51 L105.20,400.61 L106.49,400.73 L107.76,400.87 L109.00,401.03 L110.22,401.22 L111.22,401.38 L112.21,401.55 L113.20,401.74 L114.17,401.94 L115.11,402.16 L116.02,402.39 L116.89,402.66 L117.70,402.95 L118.46,403.27 L119.15,403.62 L119.62,403.89 L120.05,404.18 L120.45,404.47 L120.82,404.78 L121.17,405.11 L121.51,405.45 L121.82,405.80 L122.12,406.18 L122.41,406.58 L122.68,407.00 L122.98,407.54 L123.25,408.12 L123.48,408.74 L123.69,409.39 L123.88,410.06 L124.06,410.74 L124.23,411.43 L124.41,412.11 L124.60,412.79 L124.80,413.44" fill="none" stroke="#d04848" stroke-width="1.5" stroke-dasharray="5,5.6" stroke-linejoin="round"/>
<path d="M48.60,502.40 L49.20,492.14 L49.72,480.96 L50.20,469.26 L50.67,457.43 L51.16,445.87 L51.70,434.95 L52.33,425.08 L53.09,416.66 L54.00,410.06 L55.09,405.69 L55.34,405.06 L55.58,404.53 L55.81,404.08 L56.04,403.70 L56.28,403.37 L56.55,403.08 L56.84,402.81 L57.18,402.55 L57.56,402.28 L58.01,401.98 L58.96,401.45 L60.11,400.96 L61.42,400.51 L62.85,400.09 L64.38,399.71 L65.96,399.35 L67.56,399.02 L69.15,398.72 L70.68,398.43 L72.12,398.16 L73.42,397.92 L74.73,397.70 L76.05,397.50 L77.36,397.32 L78.67,397.16 L79.96,397.02 L81.22,396.91 L82.46,396.83 L83.66,396.77 L84.82,396.74 L85.73,396.73 L86.63,396.72 L87.53,396.72 L88.41,396.74 L89.27,396.78 L90.10,396.84 L90.90,396.94 L91.66,397.08 L92.38,397.27 L93.05,397.51 L93.54,397.75 L93.99,398.03 L94.42,398.34 L94.81,398.68 L95.19,399.04 L95.56,399.42 L95.92,399.80 L96.28,400.17 L96.66,400.54 L97.05,400.89" fill="none" stroke="#303088" stroke-width="1.4" stroke-dasharray="1.8,4.2" stroke-linejoin="round"/>
<path d="M48.60,502.40 L49.28,493.06 L49.79,482.96 L50.19,472.42 L50.56,461.77 L50.99,451.35 L51.54,441.46 L52.30,432.45 L53.35,424.63 L54.75,418.33 L56.60,413.88 L57.30,412.84 L58.02,411.99 L58.75,411.31 L59.51,410.76 L60.31,410.32 L61.15,409.94 L62.03,409.60 L62.98,409.28 L63.98,408.93 L65.06,408.53 L66.96,407.87 L69.13,407.23 L71.50,406.63 L74.03,406.08 L76.65,405.59 L79.30,405.15 L81.93,404.78 L84.47,404.49 L86.86,404.28 L89.05,404.16 L90.60,404.12 L92.12,404.11 L93.62,404.13 L95.08,404.19 L96.51,404.30 L97.88,404.45 L99.19,404.66 L100.43,404.94 L101.60,405.28 L102.69,405.69 L103.46,406.07 L104.16,406.52 L104.80,407.01 L105.41,407.53 L105.98,408.09 L106.54,408.67 L107.09,409.25 L107.64,409.83 L108.21,410.39 L108.81,410.93" fill="none" stroke="#e040e0" stroke-width="1.3" stroke-dasharray="5,2.6,1.5,3" stroke-linejoin="round"/>
<path d="M48.60,502.40 L49.18,499.10 L49.80,495.75 L50.43,492.37 L51.06,488.99 L51.69,485.62 L52.30,482.29 L52.87,479.00 L53.39,475.79 L53.85,472.67 L54.24,469.65 L54.50,467.29 L54.71,464.98 L54.89,462.72 L55.03,460.50 L55.15,458.32 L55.25,456.18 L55.35,454.06 L55.44,451.97 L55.54,449.89 L55.66,447.82 L55.70,445.95 L55.64,444.05 L55.52,442.12 L55.39,440.21 L55.28,438.34 L55.24,436.52 L55.31,434.79 L55.53,433.17 L55.94,431.69 L56.60,430.36 L57.41,429.29 L58.40,428.37 L59.53,427.56 L60.79,426.85 L62.15,426.20 L63.60,425.61 L65.10,425.04 L66.65,424.48 L68.21,423.89 L69.77,423.27 L71.84,422.41 L74.05,421.57 L76.35,420.73 L78.75,419.91 L81.20,419.11 L83.70,418.34 L86.23,417.60 L88.76,416.89 L91.27,416.24 L93.75,415.63 L96.24,415.06 L98.74,414.53 L101.25,414.04 L103.77,413.59 L106.30,413.18 L108.85,412.80 L111.40,412.45 L113.97,412.13 L116.56,411.85 L119.15,411.59 L121.90,411.34 L124.70,411.13 L127.54,410.95 L130.40,410.80 L133.26,410.68 L136.11,410.61 L138.91,410.57 L141.66,410.57 L144.33,410.62 L146.91,410.71 L149.01,410.81 L151.09,410.92 L153.16,411.04 L155.18,411.19 L157.17,411.37 L159.11,411.60 L160.99,411.88 L162.80,412.22 L164.54,412.63 L166.19,413.12 L167.44,413.58 L168.62,414.10 L169.74,414.68 L170.81,415.29 L171.86,415.94 L172.88,416.60 L173.89,417.28 L174.91,417.95 L175.95,418.60 L177.01,419.23" fill="none" stroke="#5a9a6a" stroke-width="1.3" stroke-dasharray="3.6,2.4,1.5,2.4,1.5,3" stroke-linejoin="round"/>
<path d="M48.60,502.40 L49.12,495.53 L49.65,488.18 L50.18,480.54 L50.71,472.83 L51.24,465.26 L51.77,458.05 L52.29,451.39 L52.79,445.51 L53.29,440.61 L53.77,436.91 L53.89,436.04 L53.97,435.27 L54.02,434.59 L54.07,433.99 L54.13,433.43 L54.21,432.92 L54.34,432.43 L54.54,431.94 L54.81,431.44 L55.19,430.91 L56.01,430.03 L57.06,429.19 L58.30,428.38 L59.71,427.59 L61.25,426.84 L62.89,426.10 L64.60,425.38 L66.33,424.67 L68.07,423.97 L69.77,423.27 L71.89,422.40 L74.12,421.55 L76.44,420.71 L78.83,419.89 L81.28,419.09 L83.76,418.32 L86.27,417.59 L88.78,416.89 L91.28,416.23 L93.75,415.63 L96.24,415.06 L98.74,414.53 L101.25,414.04 L103.77,413.59 L106.30,413.18 L108.85,412.80 L111.40,412.45 L113.97,412.13 L116.56,411.85 L119.15,411.59 L121.90,411.34 L124.70,411.13 L127.54,410.95 L130.40,410.80 L133.26,410.68 L136.11,410.61 L138.91,410.57 L141.66,410.57 L144.33,410.62 L146.91,410.71 L149.01,410.81 L151.09,410.92 L153.16,411.04 L155.18,411.19 L157.17,411.37 L159.11,411.60 L160.99,411.88 L162.80,412.22 L164.54,412.63 L166.19,413.12 L167.44,413.58 L168.62,414.10 L169.74,414.68 L170.81,415.29 L171.86,415.94 L172.88,416.60 L173.89,417.28 L174.91,417.95 L175.95,418.60 L177.01,419.23" fill="none" stroke="#1c241c" stroke-width="1.5" stroke-dasharray="2.4,1.6" stroke-linejoin="round"/>
<path d="M48.60,502.40 L48.80,491.27 L49.00,479.82 L49.20,468.18 L49.40,456.49 L49.59,444.90 L49.79,433.53 L50.00,422.55 L50.20,412.08 L50.41,402.27 L50.62,393.25 L50.74,387.49 L50.84,381.42 L50.91,375.26 L50.99,369.23 L51.07,363.54 L51.18,358.40 L51.32,354.02 L51.51,350.63 L51.76,348.42 L52.08,347.63 L52.35,348.02 L52.64,349.16 L52.97,350.90 L53.31,353.12 L53.67,355.69 L54.05,358.48 L54.44,361.36 L54.84,364.20 L55.25,366.87 L55.66,369.24 L56.08,371.45 L56.53,373.67 L56.99,375.90 L57.46,378.13 L57.94,380.36 L58.43,382.59 L58.91,384.82 L59.40,387.05 L59.88,389.28 L60.36,391.50" fill="none" stroke="#a890d0" stroke-width="1.2" stroke-dasharray="1.2,1.4" stroke-linejoin="round"/>
<path d="M48.60,502.40 L48.75,499.09 L48.85,495.55 L48.91,491.88 L48.96,488.18 L49.03,484.54 L49.14,481.07 L49.32,477.85 L49.58,475.00 L49.96,472.60 L50.48,470.75 L50.71,470.21 L50.95,469.75 L51.21,469.35 L51.47,469.01 L51.75,468.70 L52.04,468.41 L52.34,468.14 L52.65,467.86 L52.97,467.57 L53.30,467.25 L53.70,466.87 L54.12,466.48 L54.54,466.10 L54.99,465.72 L55.45,465.34 L55.92,464.97 L56.42,464.60 L56.93,464.24 L57.46,463.89 L58.01,463.54 L58.72,463.13 L59.46,462.72 L60.23,462.33 L61.03,461.95 L61.86,461.57 L62.71,461.20 L63.58,460.84 L64.47,460.47 L65.37,460.10 L66.29,459.72 L67.40,459.27 L68.52,458.81 L69.67,458.36 L70.84,457.91 L72.04,457.46 L73.28,457.01 L74.56,456.57 L75.88,456.12 L77.26,455.68 L78.70,455.25 L80.84,454.64 L83.13,454.03 L85.54,453.43 L88.06,452.83 L90.64,452.23 L93.27,451.65 L95.91,451.08 L98.53,450.52 L101.12,449.98 L103.63,449.46 L106.00,448.98 L108.33,448.52 L110.62,448.07 L112.91,447.64 L115.20,447.22 L117.52,446.81 L119.88,446.40 L122.30,446.00 L124.80,445.60 L127.39,445.21 L130.75,444.70 L134.27,444.19 L137.91,443.68 L141.65,443.17 L145.44,442.67 L149.27,442.20 L153.10,441.75 L156.90,441.33 L160.65,440.95 L164.31,440.62 L167.72,440.35 L171.12,440.11 L174.51,439.91 L177.88,439.74 L181.23,439.59 L184.56,439.46 L187.88,439.35 L191.18,439.25 L194.45,439.17 L197.71,439.09 L200.77,439.03 L203.85,439.00 L206.94,438.98 L210.01,438.97 L213.05,438.98 L216.05,438.99 L219.00,439.02 L221.87,439.04 L224.65,439.07 L227.34,439.09 L229.40,439.10 L231.40,439.10 L233.35,439.10 L235.25,439.10 L237.11,439.10 L238.95,439.12 L240.76,439.15 L242.56,439.21 L244.36,439.30 L246.15,439.42 L247.82,439.55 L249.48,439.67 L251.14,439.80 L252.78,439.95 L254.40,440.12 L256.01,440.33 L257.59,440.58 L259.14,440.89 L260.66,441.26 L262.15,441.71 L263.54,442.21 L264.93,442.77 L266.31,443.39 L267.67,444.06 L269.00,444.77 L270.29,445.52 L271.53,446.29 L272.71,447.08 L273.82,447.89 L274.84,448.70 L275.62,449.37 L276.37,450.06 L277.07,450.78 L277.73,451.51 L278.36,452.25 L278.95,453.00 L279.51,453.76 L280.03,454.52 L280.51,455.27 L280.96,456.01 L281.30,456.63 L281.59,457.25 L281.85,457.87 L282.08,458.49 L282.29,459.12 L282.49,459.74 L282.68,460.36 L282.88,460.99 L283.09,461.61 L283.31,462.23" fill="none" stroke="#603c58" stroke-width="1.4" stroke-dasharray="6,2.2,1.4,2.2" stroke-linejoin="round"/>
<line x1="48.60" y1="284.10" x2="48.60" y2="502.40" stroke="#a0a0a0" stroke-width="1.3"/>
<line x1="48.60" y1="502.40" x2="307.80" y2="502.40" stroke="#222" stroke-width="1.2"/>
<line x1="307.30" y1="284.10" x2="307.30" y2="502.40" stroke="#222" stroke-width="1.2"/>
<line x1="44.10" y1="502.40" x2="48.60" y2="502.40" stroke="#303030" stroke-width="1.1"/>
<line x1="46.30" y1="491.48" x2="48.60" y2="491.48" stroke="#303030" stroke-width="1.1"/>
<line x1="44.10" y1="480.57" x2="48.60" y2="480.57" stroke="#303030" stroke-width="1.1"/>
<line x1="46.30" y1="469.65" x2="48.60" y2="469.65" stroke="#303030" stroke-width="1.1"/>
<line x1="44.10" y1="458.74" x2="48.60" y2="458.74" stroke="#303030" stroke-width="1.1"/>
<line x1="46.30" y1="447.82" x2="48.60" y2="447.82" stroke="#303030" stroke-width="1.1"/>
<line x1="44.10" y1="436.91" x2="48.60" y2="436.91" stroke="#303030" stroke-width="1.1"/>
<line x1="46.30" y1="426.00" x2="48.60" y2="426.00" stroke="#303030" stroke-width="1.1"/>
<line x1="44.10" y1="415.08" x2="48.60" y2="415.08" stroke="#303030" stroke-width="1.1"/>
<line x1="46.30" y1="404.16" x2="48.60" y2="404.16" stroke="#303030" stroke-width="1.1"/>
<line x1="44.10" y1="393.25" x2="48.60" y2="393.25" stroke="#303030" stroke-width="1.1"/>
<line x1="46.30" y1="382.33" x2="48.60" y2="382.33" stroke="#303030" stroke-width="1.1"/>
<line x1="44.10" y1="371.42" x2="48.60" y2="371.42" stroke="#303030" stroke-width="1.1"/>
<line x1="46.30" y1="360.50" x2="48.60" y2="360.50" stroke="#303030" stroke-width="1.1"/>
<line x1="44.10" y1="349.59" x2="48.60" y2="349.59" stroke="#303030" stroke-width="1.1"/>
<line x1="46.30" y1="338.68" x2="48.60" y2="338.68" stroke="#303030" stroke-width="1.1"/>
<line x1="44.10" y1="327.76" x2="48.60" y2="327.76" stroke="#303030" stroke-width="1.1"/>
<line x1="46.30" y1="316.85" x2="48.60" y2="316.85" stroke="#303030" stroke-width="1.1"/>
<line x1="44.10" y1="305.93" x2="48.60" y2="305.93" stroke="#303030" stroke-width="1.1"/>
<line x1="46.30" y1="295.01" x2="48.60" y2="295.01" stroke="#303030" stroke-width="1.1"/>
<line x1="44.10" y1="284.10" x2="48.60" y2="284.10" stroke="#303030" stroke-width="1.1"/>
<line x1="48.60" y1="502.40" x2="48.60" y2="506.90" stroke="#303030" stroke-width="1.1"/>
<line x1="72.12" y1="502.40" x2="72.12" y2="504.70" stroke="#303030" stroke-width="1.1"/>
<line x1="95.64" y1="502.40" x2="95.64" y2="506.90" stroke="#303030" stroke-width="1.1"/>
<line x1="119.15" y1="502.40" x2="119.15" y2="504.70" stroke="#303030" stroke-width="1.1"/>
<line x1="142.67" y1="502.40" x2="142.67" y2="506.90" stroke="#303030" stroke-width="1.1"/>
<line x1="166.19" y1="502.40" x2="166.19" y2="504.70" stroke="#303030" stroke-width="1.1"/>
<line x1="189.71" y1="502.40" x2="189.71" y2="506.90" stroke="#303030" stroke-width="1.1"/>
<line x1="213.23" y1="502.40" x2="213.23" y2="504.70" stroke="#303030" stroke-width="1.1"/>
<line x1="236.75" y1="502.40" x2="236.75" y2="506.90" stroke="#303030" stroke-width="1.1"/>
<line x1="260.26" y1="502.40" x2="260.26" y2="504.70" stroke="#303030" stroke-width="1.1"/>
<line x1="283.78" y1="502.40" x2="283.78" y2="506.90" stroke="#303030" stroke-width="1.1"/>
<line x1="307.30" y1="502.40" x2="307.30" y2="504.70" stroke="#303030" stroke-width="1.1"/>
<text x="41.30" y="505.00" font-size="8.40" text-anchor="end" fill="#2c2c2c" stroke="#2c2c2c" stroke-width="0.35">0</text>
<text x="41.30" y="483.17" font-size="8.40" text-anchor="end" fill="#2c2c2c" stroke="#2c2c2c" stroke-width="0.35">200</text>
<text x="41.30" y="461.34" font-size="8.40" text-anchor="end" fill="#2c2c2c" stroke="#2c2c2c" stroke-width="0.35">400</text>
<text x="41.30" y="439.51" font-size="8.40" text-anchor="end" fill="#2c2c2c" stroke="#2c2c2c" stroke-width="0.35">600</text>
<text x="41.30" y="417.68" font-size="8.40" text-anchor="end" fill="#2c2c2c" stroke="#2c2c2c" stroke-width="0.35">800</text>
<text x="41.30" y="395.85" font-size="8.40" text-anchor="end" fill="#2c2c2c" stroke="#2c2c2c" stroke-width="0.35">1000</text>
<text x="41.30" y="374.02" font-size="8.40" text-anchor="end" fill="#2c2c2c" stroke="#2c2c2c" stroke-width="0.35">1200</text>
<text x="41.30" y="352.19" font-size="8.40" text-anchor="end" fill="#2c2c2c" stroke="#2c2c2c" stroke-width="0.35">1400</text>
<text x="41.30" y="330.36" font-size="8.40" text-anchor="end" fill="#2c2c2c" stroke="#2c2c2c" stroke-width="0.35">1600</text>
<text x="41.30" y="308.53" font-size="8.40" text-anchor="end" fill="#2c2c2c" stroke="#2c2c2c" stroke-width="0.35">1800</text>
<text x="41.30" y="286.70" font-size="8.40" text-anchor="end" fill="#2c2c2c" stroke="#2c2c2c" stroke-width="0.35">2000</text>
<text x="48.60" y="516.80" font-size="8.40" text-anchor="middle" fill="#2c2c2c" stroke="#2c2c2c" stroke-width="0.35">0</text>
<text x="95.64" y="516.80" font-size="8.40" text-anchor="middle" fill="#2c2c2c" stroke="#2c2c2c" stroke-width="0.35">10</text>
<text x="142.67" y="516.80" font-size="8.40" text-anchor="middle" fill="#2c2c2c" stroke="#2c2c2c" stroke-width="0.35">20</text>
<text x="189.71" y="516.80" font-size="8.40" text-anchor="middle" fill="#2c2c2c" stroke="#2c2c2c" stroke-width="0.35">30</text>
<text x="236.75" y="516.80" font-size="8.40" text-anchor="middle" fill="#2c2c2c" stroke="#2c2c2c" stroke-width="0.35">40</text>
<text x="283.78" y="516.80" font-size="8.40" text-anchor="middle" fill="#2c2c2c" stroke="#2c2c2c" stroke-width="0.35">50</text>
<text x="123.60" y="534.00" font-size="10.95" fill="#2c2c2c" stroke="#2c2c2c" stroke-width="0.35">Engineering Strain [%]</text>
<text transform="translate(9.80,451.30) rotate(-90)" font-size="11.45" fill="#2c2c2c" stroke="#2c2c2c" stroke-width="0.35">Engineering Stress [MPa]</text>
<rect x="48.50" y="284.20" width="21.20" height="21.80" fill="#fff" stroke="#1e1e1e" stroke-width="1.4"/>
<text x="58.40" y="297.60" font-size="13.80" text-anchor="middle" fill="#1a1a1a" stroke="#1a1a1a" stroke-width="0" font-weight="bold">c</text>
<rect x="189.60" y="284.10" width="117.70" height="115.00" fill="#fff" stroke="#808080" stroke-width="1"/>
<line x1="48.60" y1="284.10" x2="307.80" y2="284.10" stroke="#909090" stroke-width="1.4"/>
<line x1="307.30" y1="283.60" x2="307.30" y2="400.10" stroke="#222" stroke-width="1.2"/>
<line x1="190.50" y1="292.90" x2="215.70" y2="292.90" stroke="#333" stroke-width="1.5"/>
<text x="218.00" y="296.79" font-size="10.80" fill="#2c2c2c" stroke="#2c2c2c" stroke-width="0.35">Cryo75-800-60s</text>
<line x1="190.50" y1="307.10" x2="215.70" y2="307.10" stroke="#d04848" stroke-width="1.5" stroke-dasharray="5,5.6"/>
<text x="218.00" y="310.99" font-size="10.80" fill="#2c2c2c" stroke="#2c2c2c" stroke-width="0.35">Cryo75-800-180s</text>
<line x1="190.50" y1="321.00" x2="215.70" y2="321.00" stroke="#303088" stroke-width="1.4" stroke-dasharray="1.8,4.2"/>
<text x="218.00" y="324.89" font-size="10.80" fill="#2c2c2c" stroke="#2c2c2c" stroke-width="0.35">Cryo75-800-120s</text>
<line x1="190.50" y1="335.30" x2="215.70" y2="335.30" stroke="#e040e0" stroke-width="1.3" stroke-dasharray="5,2.6,1.5,3"/>
<text x="218.00" y="339.19" font-size="10.80" fill="#2c2c2c" stroke="#2c2c2c" stroke-width="0.35">Cryo75-850-60s</text>
<line x1="190.50" y1="348.90" x2="215.70" y2="348.90" stroke="#5a9a6a" stroke-width="1.3" stroke-dasharray="3.6,2.4,1.5,2.4,1.5,3"/>
<text x="218.00" y="352.79" font-size="10.80" fill="#2c2c2c" stroke="#2c2c2c" stroke-width="0.35">Cryo75-850-120s</text>
<line x1="190.50" y1="362.90" x2="215.70" y2="362.90" stroke="#1c241c" stroke-width="1.5" stroke-dasharray="2.4,1.6"/>
<text x="218.00" y="366.79" font-size="10.80" fill="#2c2c2c" stroke="#2c2c2c" stroke-width="0.35">Cryo75-850-180s</text>
<line x1="190.50" y1="376.80" x2="215.70" y2="376.80" stroke="#a890d0" stroke-width="1.2" stroke-dasharray="1.2,1.4"/>
<text x="218.00" y="380.69" font-size="10.80" fill="#2c2c2c" stroke="#2c2c2c" stroke-width="0.35">Cryo75 As Rolled</text>
<line x1="190.50" y1="391.30" x2="215.70" y2="391.30" stroke="#603c58" stroke-width="1.4" stroke-dasharray="3.4,2,1.3,2"/>
<text x="218.00" y="395.19" font-size="10.80" fill="#2c2c2c" stroke="#2c2c2c" stroke-width="0.35">As Recieved</text>
<path d="M395.60,503.40 L396.24,492.09 L396.90,480.23 L397.57,468.04 L398.26,455.78 L398.93,443.67 L399.58,431.97 L400.21,420.90 L400.79,410.71 L401.32,401.63 L401.78,393.90 L401.94,390.77 L402.04,387.87 L402.11,385.18 L402.16,382.68 L402.22,380.33 L402.30,378.11 L402.44,375.99 L402.64,373.96 L402.94,371.98 L403.35,370.03 L403.71,368.55 L404.12,367.02 L404.55,365.49 L405.02,363.98 L405.53,362.55 L406.07,361.25 L406.64,360.10 L407.25,359.17 L407.90,358.48 L408.57,358.09 L409.11,358.01 L409.68,358.09 L410.29,358.30 L410.92,358.62 L411.56,359.03 L412.21,359.51 L412.84,360.03 L413.46,360.56 L414.06,361.09 L414.61,361.60 L415.19,362.14 L415.75,362.71 L416.29,363.30 L416.80,363.93 L417.31,364.58 L417.80,365.29 L418.28,366.03 L418.75,366.83 L419.23,367.69 L419.70,368.61 L420.45,370.29 L421.17,372.21 L421.87,374.32 L422.54,376.57 L423.20,378.93 L423.84,381.36 L424.48,383.82 L425.13,386.26 L425.78,388.65 L426.45,390.94" fill="none" stroke="#151515" stroke-width="1.5" stroke-linejoin="round"/>
<path d="M395.60,503.40 L395.92,497.53 L396.19,491.47 L396.44,485.32 L396.69,479.14 L396.95,473.01 L397.24,467.01 L397.57,461.21 L397.97,455.69 L398.45,450.53 L399.02,445.80 L399.43,442.92 L399.85,440.10 L400.28,437.36 L400.73,434.73 L401.21,432.22 L401.73,429.84 L402.29,427.62 L402.91,425.56 L403.59,423.70 L404.35,422.04 L404.80,421.17 L405.26,420.37 L405.73,419.64 L406.21,418.96 L406.71,418.34 L407.24,417.76 L407.82,417.22 L408.44,416.72 L409.12,416.25 L409.86,415.80 L410.92,415.28 L412.05,414.87 L413.26,414.55 L414.55,414.30 L415.92,414.10 L417.36,413.93 L418.88,413.78 L420.49,413.61 L422.17,413.41 L423.93,413.17 L427.27,412.68 L430.99,412.15 L435.02,411.60 L439.31,411.05 L443.80,410.49 L448.44,409.95 L453.17,409.43 L457.94,408.95 L462.69,408.51 L467.37,408.13 L472.86,407.71 L478.81,407.22 L485.05,406.72 L491.42,406.25 L497.75,405.84 L503.87,405.55 L509.62,405.40 L514.83,405.45 L519.34,405.72 L522.97,406.27 L524.25,406.57 L525.39,406.87 L526.43,407.18 L527.37,407.52 L528.23,407.91 L529.04,408.34 L529.80,408.84 L530.54,409.43 L531.26,410.10 L532.00,410.87 L533.03,412.22 L533.94,413.84 L534.76,415.67 L535.51,417.68 L536.21,419.81 L536.88,422.02 L537.53,424.26 L538.19,426.48 L538.88,428.64 L539.61,430.69" fill="none" stroke="#c03c4c" stroke-width="1.5" stroke-dasharray="5,5.2" stroke-linejoin="round"/>
<path d="M395.60,503.40 L396.18,494.42 L396.78,485.10 L397.39,475.58 L398.01,466.01 L398.62,456.54 L399.21,447.32 L399.79,438.48 L400.33,430.19 L400.84,422.58 L401.30,415.80 L401.44,412.24 L401.42,408.73 L401.29,405.30 L401.14,402.01 L401.02,398.90 L401.01,396.04 L401.16,393.47 L401.56,391.23 L402.27,389.39 L403.35,387.99 L404.43,387.28 L405.71,386.88 L407.15,386.74 L408.72,386.81 L410.40,387.02 L412.16,387.33 L413.96,387.68 L415.78,388.01 L417.59,388.28 L419.36,388.42 L421.54,388.46 L423.86,388.43 L426.29,388.37 L428.77,388.30 L431.26,388.26 L433.71,388.27 L436.08,388.37 L438.31,388.60 L440.36,388.97 L442.18,389.52 L443.35,390.03 L444.45,390.62 L445.49,391.28 L446.47,392.00 L447.39,392.77 L448.25,393.58 L449.06,394.41 L449.82,395.26 L450.53,396.11 L451.21,396.97 L451.74,397.72 L452.22,398.51 L452.63,399.32 L453.01,400.14 L453.35,400.97 L453.67,401.82 L453.99,402.67 L454.31,403.51 L454.65,404.35 L455.01,405.18" fill="none" stroke="#506070" stroke-width="1.4" stroke-dasharray="1.8,4.4" stroke-linejoin="round"/>
<path d="M395.60,503.40 L395.84,501.78 L396.07,500.20 L396.30,498.65 L396.54,497.09 L396.77,495.53 L397.01,493.94 L397.24,492.31 L397.48,490.61 L397.73,488.84 L397.98,486.97 L398.33,484.22 L398.69,481.31 L399.06,478.27 L399.43,475.12 L399.81,471.88 L400.19,468.55 L400.58,465.16 L400.97,461.73 L401.37,458.26 L401.78,454.78 L402.25,450.41 L402.70,445.60 L403.15,440.50 L403.61,435.28 L404.08,430.09 L404.57,425.10 L405.10,420.45 L405.68,416.32 L406.31,412.85 L407.01,410.22 L407.25,409.49 L407.49,408.85 L407.71,408.29 L407.94,407.78 L408.17,407.32 L408.43,406.91 L408.72,406.51 L409.05,406.14 L409.42,405.77 L409.86,405.40 L410.51,404.92 L411.22,404.49 L411.98,404.11 L412.81,403.76 L413.71,403.45 L414.67,403.16 L415.72,402.89 L416.85,402.63 L418.06,402.38 L419.36,402.11 L422.81,401.56 L427.02,401.09 L431.84,400.70 L437.12,400.37 L442.68,400.10 L448.37,399.87 L454.04,399.67 L459.51,399.49 L464.64,399.32 L469.27,399.16 L472.58,398.99 L475.92,398.77 L479.24,398.53 L482.49,398.30 L485.64,398.09 L488.64,397.95 L491.44,397.91 L494.01,397.98 L496.30,398.20 L498.26,398.61 L499.11,398.86 L499.87,399.13 L500.55,399.41 L501.17,399.72 L501.75,400.06 L502.29,400.45 L502.82,400.88 L503.34,401.37 L503.88,401.92 L504.44,402.55 L505.39,403.82 L506.30,405.35 L507.17,407.10 L508.03,409.02 L508.86,411.06 L509.68,413.18 L510.50,415.32 L511.32,417.46 L512.15,419.53 L512.99,421.49" fill="none" stroke="#c43cc8" stroke-width="1.6" stroke-dasharray="5.5,2.7,1.5,3" stroke-linejoin="round"/>
<path d="M395.60,503.40 L395.85,492.14 L396.10,480.40 L396.34,468.38 L396.58,456.29 L396.83,444.34 L397.07,432.74 L397.33,421.69 L397.58,411.39 L397.85,402.06 L398.12,393.90 L398.24,389.90 L398.34,385.80 L398.42,381.74 L398.50,377.82 L398.58,374.17 L398.69,370.91 L398.84,368.15 L399.04,366.02 L399.30,364.64 L399.64,364.12 L399.88,364.28 L400.13,364.79 L400.41,365.59 L400.69,366.62 L401.00,367.81 L401.32,369.11 L401.65,370.46 L402.00,371.79 L402.36,373.06 L402.73,374.19 L403.17,375.38 L403.63,376.58 L404.12,377.79 L404.62,379.02 L405.14,380.26 L405.67,381.50 L406.20,382.74 L406.73,383.98 L407.26,385.22 L407.77,386.45" fill="none" stroke="#5a7a62" stroke-width="1.3" stroke-dasharray="4.5,2.2,1.5,2.2,1.5,3" stroke-linejoin="round"/>
<path d="M395.60,503.40 L395.75,500.08 L395.85,496.53 L395.91,492.85 L395.97,489.13 L396.04,485.48 L396.15,482.00 L396.33,478.77 L396.59,475.91 L396.98,473.50 L397.50,471.65 L397.73,471.11 L397.98,470.64 L398.23,470.25 L398.50,469.90 L398.78,469.59 L399.07,469.30 L399.37,469.03 L399.69,468.75 L400.01,468.46 L400.35,468.14 L400.76,467.75 L401.17,467.37 L401.61,466.98 L402.05,466.60 L402.52,466.22 L403.00,465.85 L403.50,465.48 L404.01,465.12 L404.55,464.77 L405.11,464.42 L405.82,464.00 L406.57,463.60 L407.35,463.20 L408.16,462.82 L409.00,462.44 L409.86,462.07 L410.74,461.70 L411.63,461.33 L412.55,460.96 L413.47,460.59 L414.59,460.13 L415.73,459.67 L416.89,459.22 L418.07,458.77 L419.29,458.32 L420.54,457.87 L421.83,457.42 L423.17,456.97 L424.56,456.53 L426.02,456.10 L428.17,455.49 L430.49,454.88 L432.93,454.27 L435.47,453.67 L438.08,453.07 L440.73,452.49 L443.40,451.91 L446.06,451.35 L448.67,450.81 L451.21,450.29 L453.60,449.81 L455.95,449.34 L458.27,448.90 L460.58,448.46 L462.90,448.04 L465.24,447.63 L467.63,447.22 L470.07,446.82 L472.59,446.42 L475.21,446.02 L478.61,445.52 L482.17,445.00 L485.85,444.49 L489.62,443.98 L493.45,443.48 L497.32,443.00 L501.19,442.55 L505.03,442.13 L508.82,441.76 L512.52,441.42 L515.96,441.15 L519.40,440.92 L522.82,440.71 L526.22,440.54 L529.61,440.39 L532.98,440.26 L536.33,440.15 L539.67,440.05 L542.98,439.97 L546.26,439.89 L549.36,439.83 L552.47,439.79 L555.59,439.77 L558.69,439.77 L561.77,439.77 L564.80,439.79 L567.77,439.81 L570.68,439.84 L573.49,439.87 L576.20,439.89 L578.29,439.90 L580.31,439.90 L582.27,439.90 L584.20,439.89 L586.08,439.90 L587.93,439.91 L589.77,439.95 L591.59,440.01 L593.40,440.09 L595.21,440.22 L596.90,440.35 L598.58,440.47 L600.25,440.60 L601.91,440.75 L603.55,440.92 L605.17,441.13 L606.77,441.38 L608.34,441.69 L609.87,442.07 L611.37,442.52 L612.78,443.02 L614.19,443.58 L615.58,444.20 L616.96,444.87 L618.30,445.59 L619.60,446.33 L620.85,447.11 L622.05,447.90 L623.17,448.71 L624.21,449.53 L624.99,450.20 L625.74,450.90 L626.45,451.61 L627.12,452.35 L627.76,453.09 L628.36,453.85 L628.92,454.60 L629.44,455.36 L629.93,456.12 L630.38,456.86 L630.72,457.48 L631.02,458.10 L631.28,458.73 L631.52,459.35 L631.73,459.98 L631.93,460.60 L632.13,461.23 L632.33,461.85 L632.53,462.48 L632.76,463.10" fill="none" stroke="#33333f" stroke-width="1.5" stroke-dasharray="2.4,1.9" stroke-linejoin="round"/>
<line x1="395.60" y1="284.40" x2="395.60" y2="503.40" stroke="#777" stroke-width="1.3"/>
<line x1="395.60" y1="503.40" x2="657.50" y2="503.40" stroke="#1a1a1a" stroke-width="1.2"/>
<line x1="657.00" y1="284.40" x2="657.00" y2="503.40" stroke="#444" stroke-width="2.0"/>
<line x1="391.10" y1="503.40" x2="395.60" y2="503.40" stroke="#303030" stroke-width="1.1"/>
<line x1="393.30" y1="492.45" x2="395.60" y2="492.45" stroke="#303030" stroke-width="1.1"/>
<line x1="391.10" y1="481.50" x2="395.60" y2="481.50" stroke="#303030" stroke-width="1.1"/>
<line x1="393.30" y1="470.55" x2="395.60" y2="470.55" stroke="#303030" stroke-width="1.1"/>
<line x1="391.10" y1="459.60" x2="395.60" y2="459.60" stroke="#303030" stroke-width="1.1"/>
<line x1="393.30" y1="448.65" x2="395.60" y2="448.65" stroke="#303030" stroke-width="1.1"/>
<line x1="391.10" y1="437.70" x2="395.60" y2="437.70" stroke="#303030" stroke-width="1.1"/>
<line x1="393.30" y1="426.75" x2="395.60" y2="426.75" stroke="#303030" stroke-width="1.1"/>
<line x1="391.10" y1="415.80" x2="395.60" y2="415.80" stroke="#303030" stroke-width="1.1"/>
<line x1="393.30" y1="404.85" x2="395.60" y2="404.85" stroke="#303030" stroke-width="1.1"/>
<line x1="391.10" y1="393.90" x2="395.60" y2="393.90" stroke="#303030" stroke-width="1.1"/>
<line x1="393.30" y1="382.95" x2="395.60" y2="382.95" stroke="#303030" stroke-width="1.1"/>
<line x1="391.10" y1="372.00" x2="395.60" y2="372.00" stroke="#303030" stroke-width="1.1"/>
<line x1="393.30" y1="361.05" x2="395.60" y2="361.05" stroke="#303030" stroke-width="1.1"/>
<line x1="391.10" y1="350.10" x2="395.60" y2="350.10" stroke="#303030" stroke-width="1.1"/>
<line x1="393.30" y1="339.15" x2="395.60" y2="339.15" stroke="#303030" stroke-width="1.1"/>
<line x1="391.10" y1="328.20" x2="395.60" y2="328.20" stroke="#303030" stroke-width="1.1"/>
<line x1="393.30" y1="317.25" x2="395.60" y2="317.25" stroke="#303030" stroke-width="1.1"/>
<line x1="391.10" y1="306.30" x2="395.60" y2="306.30" stroke="#303030" stroke-width="1.1"/>
<line x1="393.30" y1="295.35" x2="395.60" y2="295.35" stroke="#303030" stroke-width="1.1"/>
<line x1="391.10" y1="284.40" x2="395.60" y2="284.40" stroke="#303030" stroke-width="1.1"/>
<line x1="395.60" y1="503.40" x2="395.60" y2="507.90" stroke="#303030" stroke-width="1.1"/>
<line x1="419.36" y1="503.40" x2="419.36" y2="505.70" stroke="#303030" stroke-width="1.1"/>
<line x1="443.13" y1="503.40" x2="443.13" y2="507.90" stroke="#303030" stroke-width="1.1"/>
<line x1="466.89" y1="503.40" x2="466.89" y2="505.70" stroke="#303030" stroke-width="1.1"/>
<line x1="490.65" y1="503.40" x2="490.65" y2="507.90" stroke="#303030" stroke-width="1.1"/>
<line x1="514.42" y1="503.40" x2="514.42" y2="505.70" stroke="#303030" stroke-width="1.1"/>
<line x1="538.18" y1="503.40" x2="538.18" y2="507.90" stroke="#303030" stroke-width="1.1"/>
<line x1="561.95" y1="503.40" x2="561.95" y2="505.70" stroke="#303030" stroke-width="1.1"/>
<line x1="585.71" y1="503.40" x2="585.71" y2="507.90" stroke="#303030" stroke-width="1.1"/>
<line x1="609.47" y1="503.40" x2="609.47" y2="505.70" stroke="#303030" stroke-width="1.1"/>
<line x1="633.24" y1="503.40" x2="633.24" y2="507.90" stroke="#303030" stroke-width="1.1"/>
<line x1="657.00" y1="503.40" x2="657.00" y2="505.70" stroke="#303030" stroke-width="1.1"/>
<text x="388.10" y="506.10" font-size="8.70" text-anchor="end" fill="#2c2c2c" stroke="#2c2c2c" stroke-width="0.35">0</text>
<text x="388.10" y="484.20" font-size="8.70" text-anchor="end" fill="#2c2c2c" stroke="#2c2c2c" stroke-width="0.35">200</text>
<text x="388.10" y="462.30" font-size="8.70" text-anchor="end" fill="#2c2c2c" stroke="#2c2c2c" stroke-width="0.35">400</text>
<text x="388.10" y="440.40" font-size="8.70" text-anchor="end" fill="#2c2c2c" stroke="#2c2c2c" stroke-width="0.35">600</text>
<text x="388.10" y="418.50" font-size="8.70" text-anchor="end" fill="#2c2c2c" stroke="#2c2c2c" stroke-width="0.35">800</text>
<text x="388.10" y="396.60" font-size="8.70" text-anchor="end" fill="#2c2c2c" stroke="#2c2c2c" stroke-width="0.35">1000</text>
<text x="388.10" y="374.70" font-size="8.70" text-anchor="end" fill="#2c2c2c" stroke="#2c2c2c" stroke-width="0.35">1200</text>
<text x="388.10" y="352.80" font-size="8.70" text-anchor="end" fill="#2c2c2c" stroke="#2c2c2c" stroke-width="0.35">1400</text>
<text x="388.10" y="330.90" font-size="8.70" text-anchor="end" fill="#2c2c2c" stroke="#2c2c2c" stroke-width="0.35">1600</text>
<text x="388.10" y="309.00" font-size="8.70" text-anchor="end" fill="#2c2c2c" stroke="#2c2c2c" stroke-width="0.35">1800</text>
<text x="388.10" y="287.10" font-size="8.70" text-anchor="end" fill="#2c2c2c" stroke="#2c2c2c" stroke-width="0.35">2000</text>
<text x="395.60" y="518.20" font-size="8.70" text-anchor="middle" fill="#2c2c2c" stroke="#2c2c2c" stroke-width="0.35">0</text>
<text x="443.13" y="518.20" font-size="8.70" text-anchor="middle" fill="#2c2c2c" stroke="#2c2c2c" stroke-width="0.35">10</text>
<text x="490.65" y="518.20" font-size="8.70" text-anchor="middle" fill="#2c2c2c" stroke="#2c2c2c" stroke-width="0.35">20</text>
<text x="538.18" y="518.20" font-size="8.70" text-anchor="middle" fill="#2c2c2c" stroke="#2c2c2c" stroke-width="0.35">30</text>
<text x="585.71" y="518.20" font-size="8.70" text-anchor="middle" fill="#2c2c2c" stroke="#2c2c2c" stroke-width="0.35">40</text>
<text x="633.24" y="518.20" font-size="8.70" text-anchor="middle" fill="#2c2c2c" stroke="#2c2c2c" stroke-width="0.35">50</text>
<text x="471.30" y="534.30" font-size="11.00" fill="#2c2c2c" stroke="#2c2c2c" stroke-width="0.35">Engineering Strain [%]</text>
<text transform="translate(356.00,451.60) rotate(-90)" font-size="11.30" fill="#2c2c2c" stroke="#2c2c2c" stroke-width="0.35">Engineering Stress [MPa]</text>
<rect x="395.20" y="284.30" width="21.10" height="21.70" fill="#fff" stroke="#1e1e1e" stroke-width="1.4"/>
<text x="404.20" y="300.60" font-size="17.60" text-anchor="middle" fill="#1a1a1a" stroke="#1a1a1a" stroke-width="0.3">d</text>
<rect x="553.30" y="284.40" width="103.70" height="81.20" fill="#fff" stroke="#808080" stroke-width="1"/>
<line x1="395.60" y1="284.40" x2="657.50" y2="284.40" stroke="#666" stroke-width="1.3"/>
<line x1="657.00" y1="283.90" x2="657.00" y2="366.60" stroke="#444" stroke-width="2.0"/>
<line x1="555.00" y1="292.40" x2="578.60" y2="292.40" stroke="#151515" stroke-width="1.5"/>
<text x="581.50" y="296.11" font-size="10.30" fill="#2c2c2c" stroke="#2c2c2c" stroke-width="0.35">RT75-800-60s</text>
<line x1="555.00" y1="305.60" x2="578.60" y2="305.60" stroke="#904050" stroke-width="1.5" stroke-dasharray="5,5.2"/>
<text x="581.50" y="309.31" font-size="10.30" fill="#2c2c2c" stroke="#2c2c2c" stroke-width="0.35">RT75-800-120s</text>
<line x1="555.00" y1="318.60" x2="578.60" y2="318.60" stroke="#7080a0" stroke-width="1.4" stroke-dasharray="1.8,4.4"/>
<text x="581.50" y="322.31" font-size="10.30" fill="#2c2c2c" stroke="#2c2c2c" stroke-width="0.35">RT75-850-60s</text>
<line x1="555.00" y1="331.70" x2="578.60" y2="331.70" stroke="#c43cc8" stroke-width="1.6" stroke-dasharray="5.5,2.7,1.5,3"/>
<text x="581.50" y="335.41" font-size="10.30" fill="#2c2c2c" stroke="#2c2c2c" stroke-width="0.35">RT75-850-120s</text>
<line x1="555.00" y1="345.10" x2="578.60" y2="345.10" stroke="#5a7a62" stroke-width="1.3" stroke-dasharray="4.5,2.2,1.5,2.2,1.5,3"/>
<text x="581.50" y="348.81" font-size="10.30" fill="#2c2c2c" stroke="#2c2c2c" stroke-width="0.35">RT75 As Rolled</text>
<line x1="555.00" y1="358.30" x2="578.60" y2="358.30" stroke="#33333f" stroke-width="1.5" stroke-dasharray="2.2,1.6"/>
<text x="581.50" y="362.01" font-size="10.30" fill="#2c2c2c" stroke="#2c2c2c" stroke-width="0.35">As Received</text>
</svg></body></html>
